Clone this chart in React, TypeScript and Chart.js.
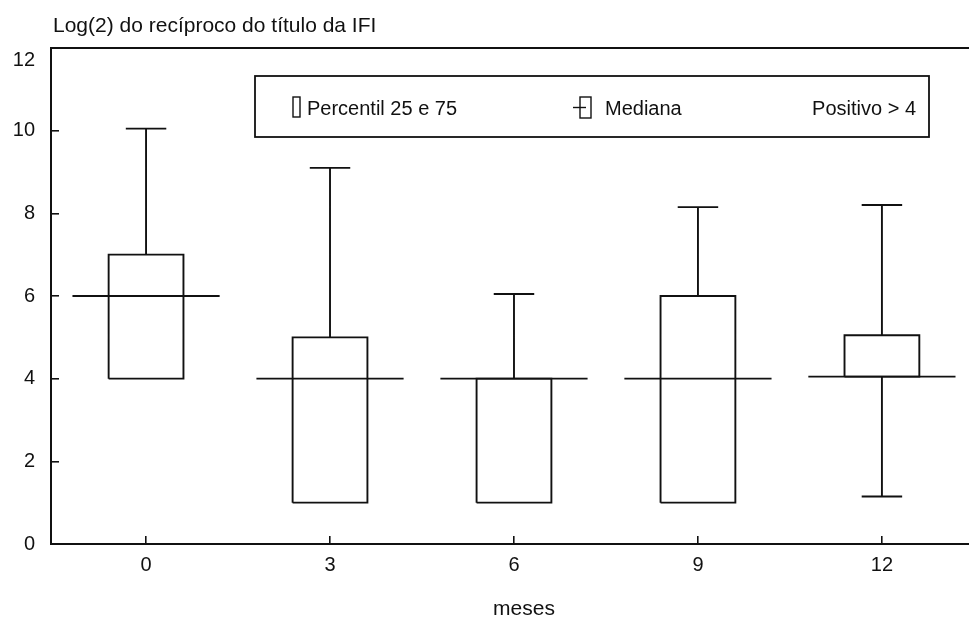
import React, { useEffect, useRef } from "react";
import { Chart, registerables } from "chart.js";

Chart.register(...registerables);

// ---- data ----
const months = [0, 3, 6, 9, 12];
const q1 = [4, 1, 1, 1, 4.05];
const q3 = [7, 5, 4, 6, 5.05];
const medians = [6, 4, 4, 4, 4.05];
const maxs = [10.05, 9.1, 6.05, 8.15, 8.2];
const mins = [4, 1, 1, 1, 1.15];
const yTicks = [0, 2, 4, 6, 8, 10, 12];

const titleText = "Log(2) do recíproco do título da IFI";
const xTitleText = "meses";
const legendItems = ["Percentil 25 e 75", "Mediana", "Positivo > 4"];

// ---- style constants ----
const INK = "#111111";
const FONT = "'Liberation Sans', Arial, Helvetica, sans-serif";
const BOX_HALF = 0.61; // months
const CAP_HALF = 0.33;
const MED_HALF = 1.2;

type P = { x: number; y: number | null };

function boxPoints(): P[] {
  const pts: P[] = [];
  months.forEach((m, i) => {
    pts.push({ x: m - BOX_HALF, y: q1[i] });
    pts.push({ x: m + BOX_HALF, y: q1[i] });
    pts.push({ x: m + BOX_HALF, y: q3[i] });
    pts.push({ x: m - BOX_HALF, y: q3[i] });
    pts.push({ x: m - BOX_HALF, y: q1[i] });
    pts.push({ x: m, y: null });
  });
  return pts;
}

function whiskerPoints(): P[] {
  const pts: P[] = [];
  months.forEach((m, i) => {
    if (maxs[i] > q3[i]) {
      pts.push({ x: m, y: q3[i] }, { x: m, y: maxs[i] }, { x: m, y: null });
      pts.push({ x: m - CAP_HALF, y: maxs[i] }, { x: m + CAP_HALF, y: maxs[i] }, { x: m, y: null });
    }
    if (mins[i] < q1[i]) {
      pts.push({ x: m, y: q1[i] }, { x: m, y: mins[i] }, { x: m, y: null });
      pts.push({ x: m - CAP_HALF, y: mins[i] }, { x: m + CAP_HALF, y: mins[i] }, { x: m, y: null });
    }
  });
  return pts;
}

function medianPoints(): P[] {
  const pts: P[] = [];
  months.forEach((m, i) => {
    pts.push({ x: m - MED_HALF, y: medians[i] }, { x: m + MED_HALF, y: medians[i] }, { x: m, y: null });
  });
  return pts;
}

const decorPlugin = {
  id: "decor",
  afterDraw(chart: any) {
    const ctx = chart.ctx as CanvasRenderingContext2D;
    const ca = chart.chartArea;
    ctx.save();
    // top frame line
    ctx.strokeStyle = INK;
    ctx.lineWidth = 2;
    ctx.beginPath();
    ctx.moveTo(ca.left, ca.top);
    ctx.lineTo(ca.right, ca.top);
    ctx.stroke();

    // chart title
    ctx.fillStyle = INK;
    ctx.font = `21px ${FONT}`;
    ctx.textAlign = "left";
    ctx.textBaseline = "alphabetic";
    ctx.fillText(titleText, ca.left + 2, 32);

    // x axis title
    ctx.textAlign = "center";
    ctx.fillText(xTitleText, 524, 615);

    // legend box
    const lx = 255, ly = 76, lw = 674, lh = 61;
    ctx.lineWidth = 1.8;
    ctx.strokeRect(lx, ly, lw, lh);
    const ty = 115;
    ctx.font = `20px ${FONT}`;
    ctx.textAlign = "left";
    // glyph 1: box
    ctx.lineWidth = 1.4;
    ctx.strokeRect(293, 97, 7, 20);
    ctx.fillText(legendItems[0], 307, ty);
    // glyph 2: median marker
    ctx.strokeRect(580, 97, 11, 21);
    ctx.beginPath();
    ctx.moveTo(573, 107.5);
    ctx.lineTo(586, 107.5);
    ctx.stroke();
    ctx.fillText(legendItems[1], 605, ty);
    // item 3
    ctx.textAlign = "right";
    ctx.fillText(legendItems[2], 916, ty);
    ctx.restore();
  },
};

export default function App() {
  const ref = useRef<HTMLCanvasElement | null>(null);
  useEffect(() => {
    if (!ref.current) return;
    const lineDs = (label: string, data: P[]) => ({
      label,
      data,
      showLine: true,
      borderColor: INK,
      backgroundColor: "rgba(0,0,0,0)",
      borderWidth: 1.9,
      pointRadius: 0,
      pointHoverRadius: 0,
      spanGaps: false,
      fill: false,
      tension: 0,
    });
    const tickFont = { family: FONT, size: 20 };
    const chart = new Chart(ref.current, {
      type: "scatter",
      data: {
        datasets: [
          lineDs("Percentil 25 e 75", boxPoints()),
          lineDs("Whiskers", whiskerPoints()),
          lineDs("Mediana", medianPoints()),
        ],
      },
      plugins: [decorPlugin],
      options: {
        animation: false,
        responsive: false,
        devicePixelRatio: 1,
        layout: { padding: { top: 47, left: 0, right: 0, bottom: 0 } },
        plugins: {
          legend: { display: false },
          title: { display: false },
          tooltip: { enabled: false },
        },
        scales: {
          x: {
            type: "linear",
            min: -1.55,
            max: 13.42,
            afterBuildTicks: (s: any) => {
              s.ticks = months.map((v) => ({ value: v }));
            },
            afterFit: (s: any) => {
              s.height = 75;
            },
            ticks: { font: tickFont, color: INK, padding: 17, autoSkip: false, maxRotation: 0 },
            grid: { display: true, drawOnChartArea: false, drawTicks: true, tickLength: -8, color: INK, lineWidth: 1.6 },
            border: { display: true, color: INK, width: 2 },
          },
          y: {
            type: "linear",
            min: 0,
            max: 12,
            afterBuildTicks: (s: any) => {
              s.ticks = yTicks.map((v) => ({ value: v }));
            },
            afterFit: (s: any) => {
              s.width = 51;
            },
            ticks: {
              font: tickFont,
              color: INK,
              padding: 24,
              callback: (v: any) => (v === 12 ? ["", String(v)] : String(v)),
            },
            grid: { display: true, drawOnChartArea: false, drawTicks: true, tickLength: -8, color: INK, lineWidth: 1.6 },
            border: { display: true, color: INK, width: 2 },
          },
        },
      },
    } as any);
    return () => chart.destroy();
  }, []);
  return (
    <div style={{ position: "absolute", left: 0, top: 0, width: 969, height: 619, background: "#fff" }}>
      <canvas ref={ref} width={969} height={619} style={{ width: 969, height: 619, display: "block" }} />
    </div>
  );
}
